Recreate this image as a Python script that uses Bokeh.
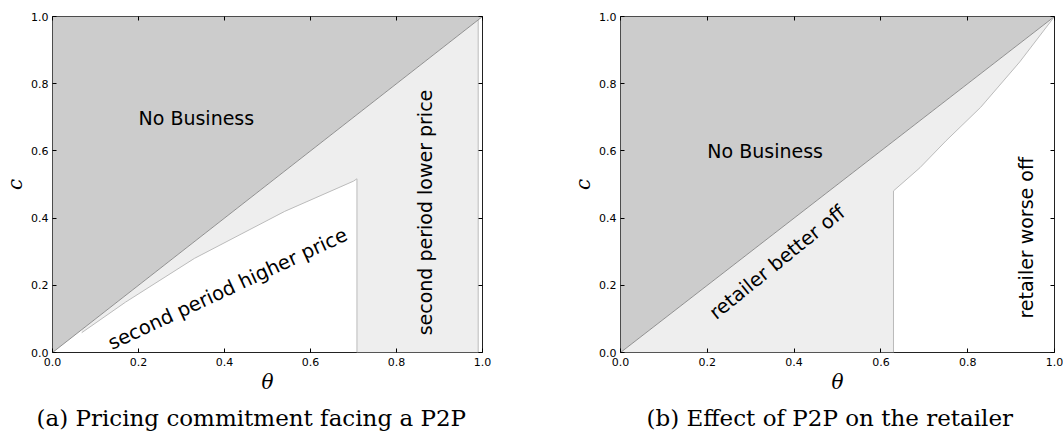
import math
from bokeh.plotting import figure
from bokeh.models import LinearAxis, FixedTicker, Title
from bokeh.layouts import row
from bokeh.embed import file_html
from bokeh.resources import INLINE
from bokeh.core.properties import value

# ---------------- data ----------------
ticks = [0.0, 0.2, 0.4, 0.6, 0.8, 1.0]
tick_labels = ["0.0", "0.2", "0.4", "0.6", "0.8", "1.0"]

# common boundary theta = c (no business above)
diag_theta = [0.0, 1.0]
diag_c = [0.0, 1.0]

# panel (a): pricing commitment facing a P2P
a_curve_theta = [0.068, 0.17, 0.33, 0.54, 0.70, 0.708]
a_curve_c = [0.059, 0.15, 0.28, 0.42, 0.51, 0.517]
a_split_theta = 0.708
a_end_theta = 0.99

# panel (b): effect of P2P on the retailer
b_split_theta = 0.629
b_curve_theta = [0.629, 0.69, 0.75, 0.83, 0.92, 1.0]
b_curve_c = [0.481, 0.55, 0.63, 0.73, 0.865, 1.0]

DARK = "#cccccc"
LIGHT = "#eeeeee"
DIAG_LINE = "#909090"
EDGE_LINE = "#bbbbbb"


def make_fig(width, border_left, border_right):
    p = figure(width=width, height=442, x_range=(0, 1), y_range=(0, 1),
               output_backend="svg", toolbar_location=None,
               min_border_left=border_left, min_border_right=border_right,
               min_border_top=16, min_border_bottom=90)
    p.grid.visible = False
    p.background_fill_color = "white"
    p.border_fill_color = "white"
    p.outline_line_color = "#222222"
    p.outline_line_width = 1
    p.outline_line_alpha = 1.0
    for ax in (p.xaxis[0], p.yaxis[0]):
        ax.ticker = FixedTicker(ticks=ticks)
        ax.major_label_overrides = {t: l for t, l in zip(ticks, tick_labels)}
        ax.major_tick_in = 4
        ax.major_tick_out = 0
        ax.major_tick_line_color = "black"
        ax.minor_tick_line_color = None
        ax.axis_line_color = None
        ax.major_label_text_font = "DejaVu Sans"
        ax.major_label_text_font_size = "11px"
        ax.major_label_text_color = "black"
        ax.major_label_standoff = 4
        ax.axis_label_text_font = "DejaVu Serif"
        ax.axis_label_text_font_style = "italic"
        ax.axis_label_text_font_size = "20px"
        ax.axis_label_text_color = "black"
        ax.axis_label_standoff = 1
    p.xaxis[0].axis_label = "θ"
    p.yaxis[0].axis_label = "c"
    p.xaxis[0].major_label_standoff = 5
    for loc in ("above", "right"):
        ax = LinearAxis(ticker=FixedTicker(ticks=ticks), major_tick_in=4, major_tick_out=0,
                        minor_tick_line_color=None, axis_line_color=None,
                        major_label_text_font_size="1px", major_label_text_color=None,
                        major_label_standoff=0, major_tick_line_color="black")
        p.add_layout(ax, loc)
    return p


# ---------------- panel (a) ----------------
pa = make_fig(540, 48, 58)
pa.patch(x=[diag_theta[0], diag_theta[1], 0.0], y=[diag_c[0], diag_c[1], 1.0],
         fill_color=DARK, line_color=None)
a_light_x = [a_curve_theta[0], a_end_theta, a_end_theta, a_split_theta] + a_curve_theta[::-1]
a_light_y = [a_curve_theta[0], a_end_theta, 0.0, 0.0] + a_curve_c[::-1]
pa.patch(x=a_light_x, y=a_light_y, fill_color=LIGHT, line_color=None)
pa.line(x=a_curve_theta + [a_split_theta], y=a_curve_c + [0.0], line_color=EDGE_LINE, line_width=1)
pa.line(x=[a_end_theta, a_end_theta], y=[0.0, a_end_theta], line_color=EDGE_LINE, line_width=1)
pa.line(x=diag_theta, y=diag_c, line_color=DIAG_LINE, line_width=1)

pa.text(x=[0.2], y=[0.697], text=["No Business"], text_font=value("DejaVu Sans"),
        text_font_size="19px", text_align="left", text_baseline="alphabetic", text_color="black")
pa.text(x=[0.132], y=[0.025], text=["second period higher price"], angle=25, angle_units="deg",
        text_font=value("DejaVu Sans"), text_font_size="19.5px", text_align="left",
        text_baseline="alphabetic", text_color="black")
pa.text(x=[0.866], y=[0.051], text=["second period lower price"], angle=90, angle_units="deg",
        text_font=value("DejaVu Sans"), text_font_size="19px", text_align="left",
        text_baseline="alphabetic", text_color="black")
pa.add_layout(Title(text="(a) Pricing commitment facing a P2P", align="left", offset=-16,
                    text_font="DejaVu Serif", text_font_size="23px", text_font_style="normal",
                    text_color="black", standoff=12), "below")

# ---------------- panel (b) ----------------
pb = make_fig(523, 80, 9)
pb.patch(x=[diag_theta[0], diag_theta[1], 0.0], y=[diag_c[0], diag_c[1], 1.0],
         fill_color=DARK, line_color=None)
b_light_x = [diag_theta[0], diag_theta[1]] + b_curve_theta[::-1] + [b_split_theta]
b_light_y = [diag_c[0], diag_c[1]] + b_curve_c[::-1] + [0.0]
pb.patch(x=b_light_x, y=b_light_y, fill_color=LIGHT, line_color=None)
pb.line(x=[b_split_theta] + b_curve_theta, y=[0.0] + b_curve_c, line_color=EDGE_LINE, line_width=1)
pb.line(x=diag_theta, y=diag_c, line_color=DIAG_LINE, line_width=1)

pb.text(x=[0.2], y=[0.6], text=["No Business"], text_font=value("DejaVu Sans"),
        text_font_size="19px", text_align="left", text_baseline="alphabetic", text_color="black")
pb.text(x=[0.211], y=[0.111], text=["retailer better off"], angle=39, angle_units="deg",
        text_font=value("DejaVu Sans"), text_font_size="19.5px", text_align="left",
        text_baseline="alphabetic", text_color="black")
pb.text(x=[0.935], y=[0.101], text=["retailer worse off"], angle=90, angle_units="deg",
        text_font=value("DejaVu Sans"), text_font_size="19px", text_align="left",
        text_baseline="alphabetic", text_color="black")
pb.add_layout(Title(text="(b) Effect of P2P on the retailer", align="left", offset=26,
                    text_font="DejaVu Serif", text_font_size="23px", text_font_style="normal",
                    text_color="black", standoff=12), "below")

layout = row(pa, pb)
open("out.html", "w").write(file_html(layout, INLINE))
